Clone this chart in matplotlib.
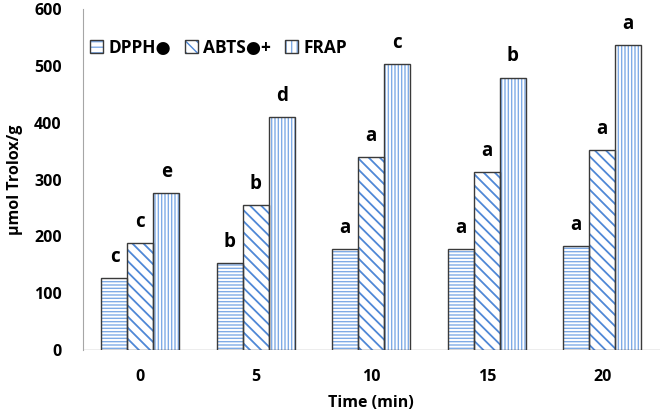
import numpy as np
import matplotlib
matplotlib.use("Agg")
import matplotlib.pyplot as plt
from matplotlib.patches import Patch
from matplotlib.legend_handler import HandlerTuple

plt.rcParams["font.family"] = ["Open Sans", "DejaVu Sans"]
plt.rcParams["font.weight"] = "bold"

times = ["0", "5", "10", "15", "20"]
series = ["DPPH\u25cf", "ABTS\u25cf+", "FRAP"]
dpph = [127, 153, 178, 178, 183]
abts = [188, 256, 340, 314, 352]
frap = [277, 411, 504, 480, 537]
dpph_letters = ["c", "b", "a", "a", "a"]
abts_letters = ["c", "b", "a", "a", "a"]
frap_letters = ["e", "d", "c", "b", "a"]

values = [dpph, abts, frap]
letters = [dpph_letters, abts_letters, frap_letters]
hatches = ["-----", "\\\\\\", "|||||"]
hatch_colors = ["#7fabe6", "#4f88d6", "#7fabe6"]
edge_color = "#3a3a3a"

fig = plt.figure(figsize=(6.61, 4.20), dpi=100)
ax = fig.add_axes([0.1251, 0.1667, 0.8734, 0.8107])

x = np.arange(len(times))
width = 0.225
for i, (vals, labs) in enumerate(zip(values, letters)):
    pos = x + (i - 1) * width
    plt.rcParams["hatch.linewidth"] = 1.3 if i == 1 else 1.0
    ax.bar(pos, vals, width, color="white", edgecolor=hatch_colors[i],
           hatch=hatches[i], linewidth=0, zorder=2)
    ax.bar(pos, vals, width, fill=False, edgecolor=edge_color,
           linewidth=1.0, zorder=3)
    for p, v, t in zip(pos, vals, labs):
        ax.annotate(t, (p, v), xytext=(0, 8), textcoords="offset points",
                    ha="center", va="bottom", fontsize=13.5, fontweight="bold")

ax.axhline(0, color="#a6a6a6", linewidth=1.0, zorder=1)

ax.set_xlim(-0.5, len(times) - 0.5)
ax.set_ylim(0, 600)
ax.set_yticks(range(0, 601, 100))
ax.set_xticks(x)
ax.set_xticklabels(times)
ax.tick_params(axis="both", length=0, labelsize=11.5)
ax.tick_params(axis="y", pad=15)
ax.tick_params(axis="x", pad=14)

for s in ["top", "right", "bottom"]:
    ax.spines[s].set_visible(False)
ax.spines["left"].set_color("#a6a6a6")

ax.set_xlabel("Time (min)", fontsize=11.5, fontweight="bold", labelpad=7)
ax.set_ylabel("\u00b5mol Trolox/g", fontsize=11.5, fontweight="bold", labelpad=8)

# legend keys: blue hatch with a dark outline on top
handles = [(Patch(facecolor="white", edgecolor=hatch_colors[i], hatch=h[:3], linewidth=0),
            Patch(fill=False, edgecolor=edge_color, linewidth=1.0))
           for i, h in enumerate(hatches)]
leg = ax.legend(handles, series, ncol=3, frameon=False, loc="upper left",
                bbox_to_anchor=(-0.005, 0.945), fontsize=12.5, handlelength=0.75,
                handleheight=0.75, handletextpad=0.3, columnspacing=0.8,
                borderaxespad=0.2,
                handler_map={tuple: HandlerTuple(ndivide=1, pad=0)})
for t in leg.get_texts():
    t.set_fontweight("bold")

fig.savefig("out.png", dpi=100, facecolor="white")
